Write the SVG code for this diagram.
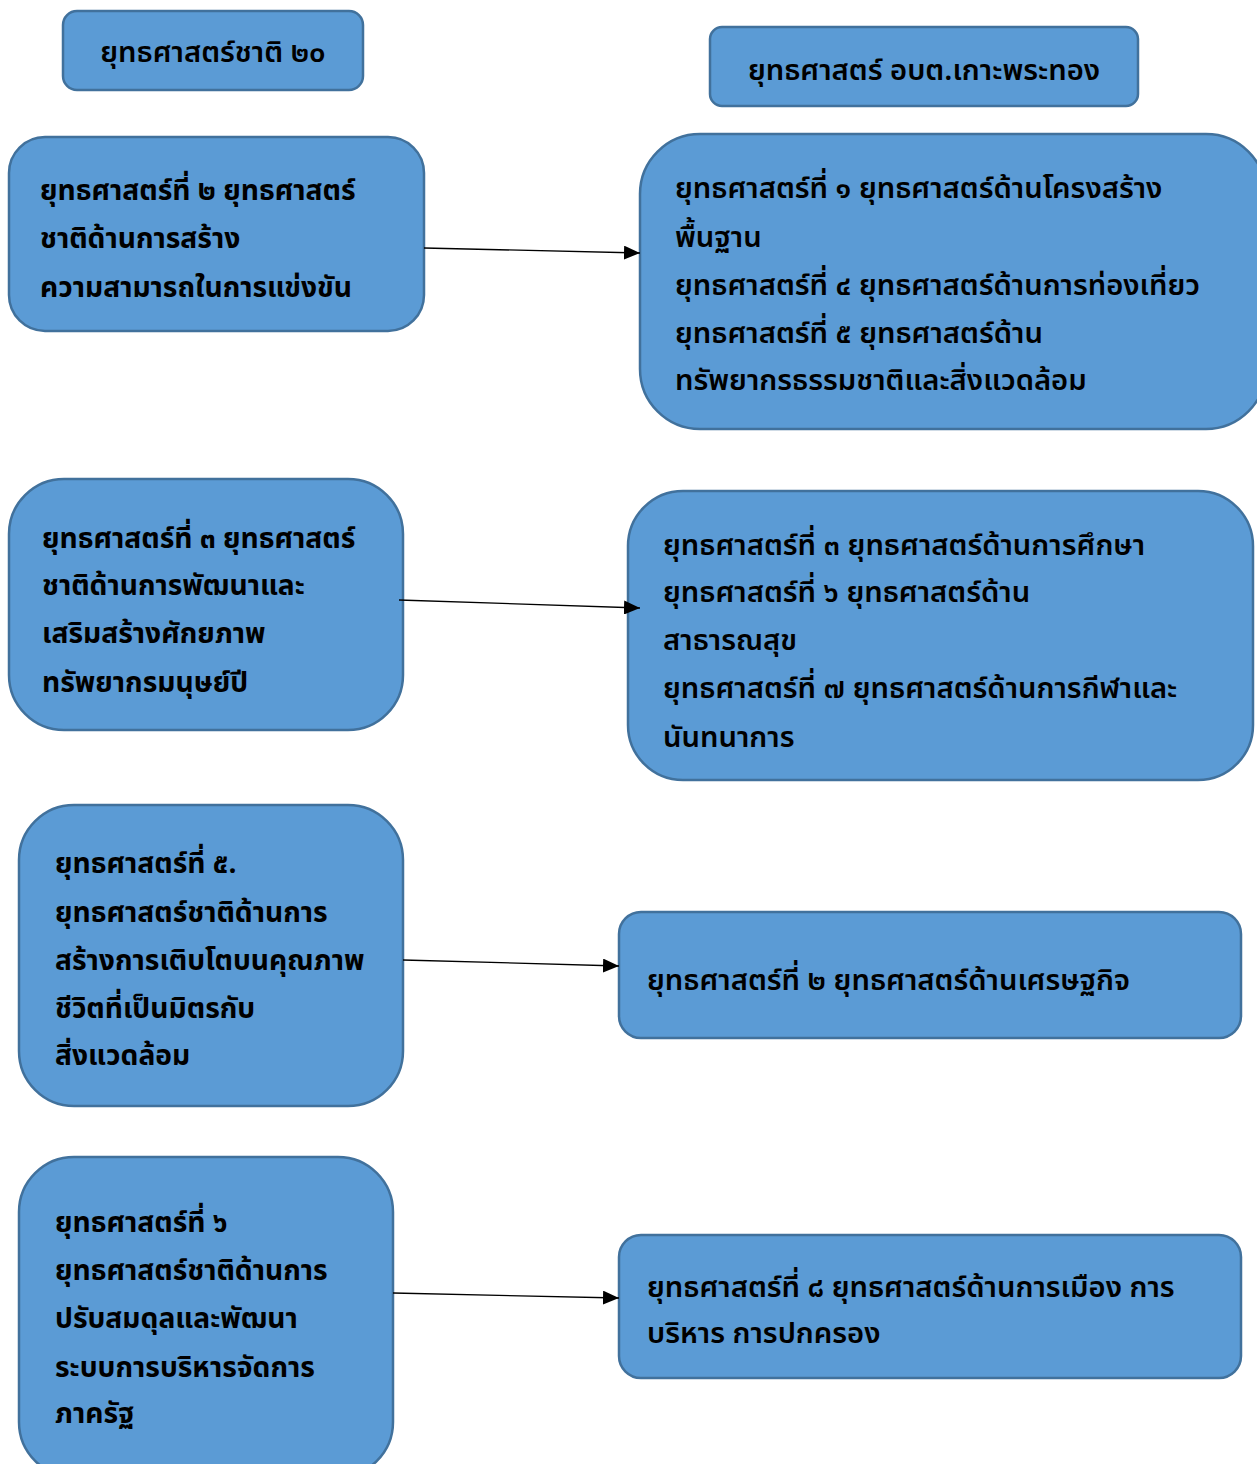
<svg xmlns="http://www.w3.org/2000/svg" width="1257" height="1464" viewBox="0 0 1257 1464">
<defs>
<style>
.box{fill:#5b9bd5;stroke:#41719c;stroke-width:2.5}
.t{font-family:"Noto Sans Thai","Noto Sans","DejaVu Sans",sans-serif;font-size:28.2px;fill:#000}
.b{font-weight:bold}
.m{font-weight:600;font-size:29.2px}
.c{stroke:#000;stroke-width:1.3;fill:none;marker-end:url(#ah)}
</style>
<marker id="ah" markerWidth="16" markerHeight="14" refX="16" refY="7" orient="auto" markerUnits="userSpaceOnUse">
<path d="M0,0 L16,7 L0,14 Z" fill="#000"/>
</marker>
</defs>
<rect width="1257" height="1464" fill="#fff"/>
<g id="h1"><rect class="box" x="63" y="11" width="300" height="79" rx="14"/>
<text class="t m" x="213" y="62" text-anchor="middle">ยุทธศาสตร์ชาติ ๒๐</text></g>
<g id="h2"><rect class="box" x="710" y="27" width="428" height="79" rx="12"/>
<text class="t m" x="924" y="80" text-anchor="middle">ยุทธศาสตร์ อบต.เกาะพระทอง</text></g>
<g id="l1"><rect class="box" x="9" y="137" width="415" height="194" rx="36"/>
<text class="t b"><tspan x="40" y="200">ยุทธศาสตร์ที่ ๒ ยุทธศาสตร์</tspan><tspan x="40" y="248">ชาติด้านการสร้าง</tspan><tspan x="40" y="297">ความสามารถในการแข่งขัน</tspan></text></g>
<g id="r1"><rect class="box" x="640" y="134" width="626" height="295" rx="60"/>
<text class="t m"><tspan x="675" y="198">ยุทธศาสตร์ที่ ๑ ยุทธศาสตร์ด้านโครงสร้าง</tspan><tspan x="675" y="247">พื้นฐาน</tspan><tspan x="675" y="295">ยุทธศาสตร์ที่ ๔ ยุทธศาสตร์ด้านการท่องเที่ยว</tspan><tspan x="675" y="343">ยุทธศาสตร์ที่ ๕ ยุทธศาสตร์ด้าน</tspan><tspan x="675" y="390">ทรัพยากรธรรมชาติและสิ่งแวดล้อม</tspan></text></g>
<g id="l2"><rect class="box" x="9" y="479" width="394" height="251" rx="55"/>
<text class="t b"><tspan x="42" y="548">ยุทธศาสตร์ที่ ๓ ยุทธศาสตร์</tspan><tspan x="42" y="595">ชาติด้านการพัฒนาและ</tspan><tspan x="42" y="643">เสริมสร้างศักยภาพ</tspan><tspan x="42" y="692">ทรัพยากรมนุษย์ปี</tspan></text></g>
<g id="r2"><rect class="box" x="628" y="491" width="625" height="289" rx="55"/>
<text class="t m"><tspan x="663" y="555">ยุทธศาสตร์ที่ ๓ ยุทธศาสตร์ด้านการศึกษา</tspan><tspan x="663" y="602">ยุทธศาสตร์ที่ ๖ ยุทธศาสตร์ด้าน</tspan><tspan x="663" y="650">สาธารณสุข</tspan><tspan x="663" y="698">ยุทธศาสตร์ที่ ๗ ยุทธศาสตร์ด้านการกีฬาและ</tspan><tspan x="663" y="747">นันทนาการ</tspan></text></g>
<g id="l3"><rect class="box" x="19" y="805" width="384" height="301" rx="55"/>
<text class="t b"><tspan x="55" y="873">ยุทธศาสตร์ที่ ๕.</tspan><tspan x="55" y="922">ยุทธศาสตร์ชาติด้านการ</tspan><tspan x="55" y="970">สร้างการเติบโตบนคุณภาพ</tspan><tspan x="55" y="1018">ชีวิตที่เป็นมิตรกับ</tspan><tspan x="55" y="1065">สิ่งแวดล้อม</tspan></text></g>
<g id="r3"><rect class="box" x="619" y="912" width="622" height="126" rx="22"/>
<text class="t m"><tspan x="647" y="990">ยุทธศาสตร์ที่ ๒ ยุทธศาสตร์ด้านเศรษฐกิจ</tspan></text></g>
<g id="l4"><rect class="box" x="19" y="1157" width="374" height="320" rx="55"/>
<text class="t b"><tspan x="55" y="1232">ยุทธศาสตร์ที่ ๖</tspan><tspan x="55" y="1280">ยุทธศาสตร์ชาติด้านการ</tspan><tspan x="55" y="1328">ปรับสมดุลและพัฒนา</tspan><tspan x="55" y="1377">ระบบการบริหารจัดการ</tspan><tspan x="55" y="1423">ภาครัฐ</tspan></text></g>
<g id="r4"><rect class="box" x="619" y="1235" width="622" height="143" rx="22"/>
<text class="t m"><tspan x="647" y="1297">ยุทธศาสตร์ที่ ๘ ยุทธศาสตร์ด้านการเมือง การ</tspan><tspan x="647" y="1343">บริหาร การปกครอง</tspan></text></g>
<g id="connectors">
<line class="c" x1="424" y1="248" x2="640" y2="253"/>
<line class="c" x1="399" y1="600" x2="640" y2="608"/>
<line class="c" x1="403" y1="960" x2="619" y2="966"/>
<line class="c" x1="393" y1="1293" x2="619" y2="1298"/>
</g>
</svg>
